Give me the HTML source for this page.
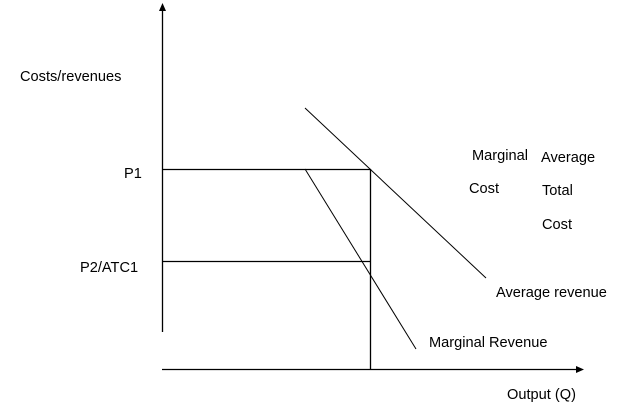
<!DOCTYPE html>
<html><head><style>
body{margin:0;background:#fff;}
svg{display:block;}
text{font-family:"Liberation Sans",Arial,sans-serif;font-size:14.6px;fill:#000;}
</style></head><body>
<svg width="624" height="418" viewBox="0 0 624 418">
<line x1="162.5" y1="10" x2="162.5" y2="332" stroke="#000" stroke-width="1.3"/>
<polygon points="162.5,3 159,11 166,11" fill="#000"/>
<line x1="162" y1="369.5" x2="577" y2="369.5" stroke="#000" stroke-width="1.3"/>
<polygon points="584,369.5 576,366 576,373" fill="#000"/>
<line x1="162" y1="169.5" x2="371" y2="169.5" stroke="#000" stroke-width="1.3"/>
<line x1="370.5" y1="169" x2="370.5" y2="369" stroke="#000" stroke-width="1.3"/>
<line x1="162" y1="261.5" x2="371" y2="261.5" stroke="#000" stroke-width="1.3"/>
<line x1="305" y1="108" x2="486" y2="278" stroke="#000" stroke-width="1"/>
<line x1="305" y1="169" x2="416" y2="349" stroke="#000" stroke-width="1"/>
<text x="20" y="81">Costs/revenues</text>
<text x="124" y="178">P1</text>
<text x="80" y="272">P2/ATC1</text>
<text x="472" y="160">Marginal</text>
<text x="541" y="162">Average</text>
<text x="469" y="193">Cost</text>
<text x="542" y="195">Total</text>
<text x="542" y="229">Cost</text>
<text x="496" y="297">Average revenue</text>
<text x="429" y="347">Marginal Revenue</text>
<text x="507" y="399">Output (Q)</text>
</svg>
</body></html>
